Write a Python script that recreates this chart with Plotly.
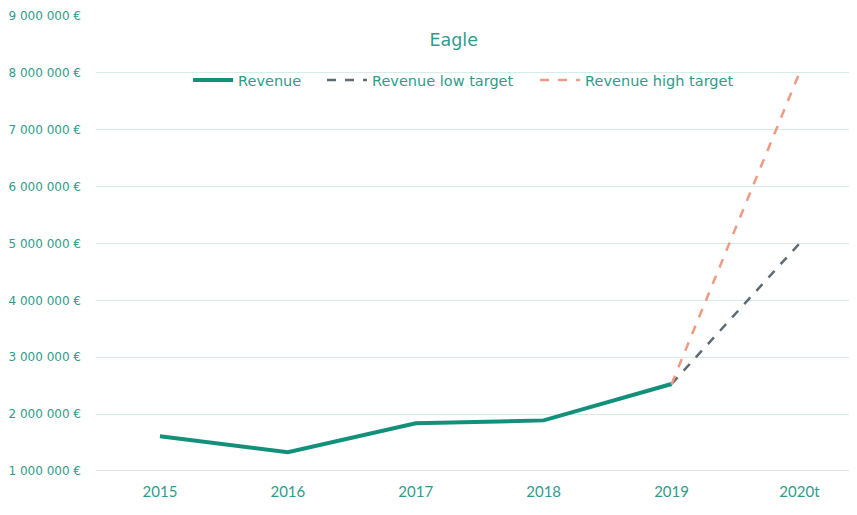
import plotly.graph_objects as go

years = ["2015", "2016", "2017", "2018", "2019", "2020t"]
revenue = [1610000, 1330000, 1840000, 1890000, 2530000, None]
low_target = [None, None, None, None, 2530000, 5000000]
high_target = [None, None, None, None, 2530000, 8000000]
y_ticks = [1000000, 2000000, 3000000, 4000000, 5000000, 6000000, 7000000, 8000000, 9000000]
y_tick_labels = ["1 000 000 €", "2 000 000 €", "3 000 000 €", "4 000 000 €", "5 000 000 €",
                 "6 000 000 €", "7 000 000 €", "8 000 000 €", "9 000 000 €"]

TEAL = "#12907a"
TEXT = "#2f9c89"
WIDE = "DejaVu Sans, sans-serif"
NARROW = "Lato, Noto Sans, sans-serif"

fig = go.Figure()
fig.add_trace(go.Scatter(x=years, y=revenue, mode="lines", name="Revenue",
                         line=dict(color=TEAL, width=4), legend="legend"))
fig.add_trace(go.Scatter(x=years, y=low_target, mode="lines", name="Revenue low target",
                         line=dict(color="#5e6b73", width=2.5, dash="dash"), legend="legend2"))
fig.add_trace(go.Scatter(x=years, y=high_target, mode="lines", name="Revenue high target",
                         line=dict(color="#f09a83", width=2.5, dash="dash"), legend="legend3"))

leg_common = dict(orientation="h", xanchor="left", y=0.859, yanchor="middle",
                  font=dict(size=14.5, color=TEXT, family=WIDE), bgcolor="rgba(0,0,0,0)",
                  itemwidth=40)

fig.update_layout(
    width=849, height=507,
    margin=dict(l=88, r=0, t=8, b=44),
    paper_bgcolor="white", plot_bgcolor="white",
    font=dict(family=WIDE, color=TEXT),
    title=dict(text="Eagle", x=0.525, xanchor="center", y=0.937, yanchor="middle",
               font=dict(size=17.5, color=TEXT, family=WIDE)),
    legend=dict(x=0.121, **leg_common),
    legend2=dict(x=0.297, **leg_common),
    legend3=dict(x=0.577, **leg_common),
    showlegend=True,
)
fig.update_xaxes(type="category", range=[-0.5, 5.45], showgrid=False, showline=False,
                 zeroline=False, ticks="", ticklabelstandoff=10,
                 tickfont=dict(size=15, color=TEXT, family=NARROW))
fig.update_yaxes(range=[1000000, 9000000], tickvals=y_ticks, ticktext=y_tick_labels,
                 showgrid=True, gridcolor="#d6ece8", gridwidth=1, zeroline=False,
                 showline=False, ticks="", ticklabelstandoff=14,
                 tickfont=dict(size=12, color=TEXT, family=WIDE))
fig.add_hline(y=1000000, line=dict(color="#d9d9d9", width=1.5))

fig.write_html("out.html")
